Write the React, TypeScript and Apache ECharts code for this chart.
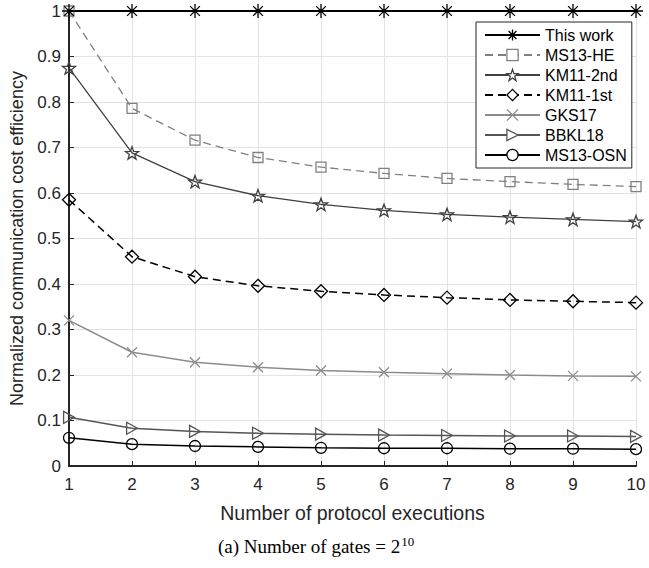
import React, { useEffect, useRef } from "react";
import * as echarts from "echarts";

const executions = [1, 2, 3, 4, 5, 6, 7, 8, 9, 10];
const yTicks = [0, 0.1, 0.2, 0.3, 0.4, 0.5, 0.6, 0.7, 0.8, 0.9, 1];

const thisWork = [1, 1, 1, 1, 1, 1, 1, 1, 1, 1];
const ms13he = [1, 0.786, 0.716, 0.678, 0.657, 0.643, 0.632, 0.625, 0.619, 0.614];
const km11nd = [0.875, 0.688, 0.625, 0.594, 0.575, 0.562, 0.553, 0.547, 0.542, 0.537];
const km11st = [0.585, 0.46, 0.416, 0.396, 0.384, 0.376, 0.37, 0.365, 0.362, 0.359];
const gks17 = [0.32, 0.25, 0.228, 0.217, 0.21, 0.206, 0.203, 0.2, 0.198, 0.197];
const bbkl18 = [0.107, 0.083, 0.076, 0.072, 0.07, 0.068, 0.067, 0.066, 0.066, 0.065];
const ms13osn = [0.062, 0.048, 0.044, 0.042, 0.04, 0.039, 0.039, 0.038, 0.038, 0.037];

const seriesNames = ["This work", "MS13-HE", "KM11-2nd", "KM11-1st", "GKS17", "BBKL18", "MS13-OSN"];

function starPath(): string {
  const pts: string[] = [];
  for (let k = 0; k < 10; k++) {
    const r = k % 2 === 0 ? 10 : 4;
    const a = (-90 + k * 36) * Math.PI / 180;
    pts.push(`${(r * Math.cos(a)).toFixed(2)},${(r * Math.sin(a)).toFixed(2)}`);
  }
  return "path://M" + pts.join(" L") + " Z";
}

const ASTERISK = "path://M0,-10 L0,10 M-10,0 L10,0 M-7,-7 L7,7 M-7,7 L7,-7";
const CROSS = "path://M-10,-10 L10,10 M-10,10 L10,-10";
const TRI_RIGHT = "path://M-8,-10 L10,0 L-8,10 Z";
const DIAMOND = "path://M0,-10 L10,0 L0,10 L-10,0 Z";
const SQUARE = "path://M-10,-10 L10,-10 L10,10 L-10,10 Z";
const CIRCLE = "path://M10,0 A10,10 0 1,1 -10,0 A10,10 0 1,1 10,0 Z";

const styles: Record<string, { color: string; symbol: string; size: number; dashed: boolean; width: number }> = {
  "This work": { color: "#000000", symbol: ASTERISK, size: 14, dashed: false, width: 1.8 },
  "MS13-HE": { color: "#808080", symbol: SQUARE, size: 10, dashed: true, width: 1.3 },
  "KM11-2nd": { color: "#404040", symbol: starPath(), size: 13, dashed: false, width: 1.3 },
  "KM11-1st": { color: "#000000", symbol: DIAMOND, size: 13, dashed: true, width: 1.5 },
  "GKS17": { color: "#8c8c8c", symbol: CROSS, size: 10, dashed: false, width: 1.5 },
  "BBKL18": { color: "#555555", symbol: TRI_RIGHT, size: 12, dashed: false, width: 1.5 },
  "MS13-OSN": { color: "#000000", symbol: CIRCLE, size: 11, dashed: false, width: 1.5 },
};

export default function App() {
  const ref = useRef<HTMLDivElement>(null);
  useEffect(() => {
    if (!ref.current) return;
    const chart = echarts.init(ref.current, undefined, { renderer: "svg" });
    const mk = (name: string, data: number[]) => {
      const s = styles[name];
      return {
        name,
        type: "line",
        data: executions.map((x, i) => [x, data[i]]),
        symbol: s.symbol,
        symbolSize: s.size,
        symbolKeepAspect: true,
        showAllSymbol: true,
        lineStyle: { color: s.color, width: s.width, type: s.dashed ? [8, 5] : "solid" },
        itemStyle: { color: "rgba(0,0,0,0)", borderColor: s.color, borderWidth: 1.3 },
        emphasis: { disabled: true },
      };
    };
    const font = "'Liberation Sans', Arial, Helvetica, sans-serif";
    const serif = "'Liberation Serif', 'Times New Roman', serif";
    chart.setOption({
      animation: false,
      backgroundColor: "#ffffff",
      grid: { left: 65, right: 13, top: 11, bottom: 102, containLabel: false },
      legend: {
        orient: "vertical",
        left: 476,
        top: 22,
        padding: [5, 5, 5, 8],
        itemWidth: 55,
        itemHeight: 14,
        itemGap: 4,
        backgroundColor: "#ffffff",
        borderColor: "#262626",
        borderWidth: 1,
        itemStyle: { color: "#ffffff", borderWidth: 1.3 },
        textStyle: { fontFamily: font, fontSize: 16, color: "#000" },
        data: seriesNames.map((n) => ({
          name: n,
          itemStyle: { color: "#ffffff", borderColor: styles[n].color, borderWidth: 1.3 },
        })),
      },
      xAxis: {
        type: "value",
        min: 1,
        max: 10,
        interval: 1,
        name: "Number of protocol executions",
        nameLocation: "middle",
        nameGap: 37,
        nameTextStyle: { fontFamily: font, fontSize: 19.5, color: "#262626" },
        axisLine: { lineStyle: { color: "#262626", width: 2 } },
        axisTick: { inside: true, length: 5, lineStyle: { color: "#262626" } },
        axisLabel: { fontFamily: font, fontSize: 17, color: "#262626", margin: 10 },
        splitLine: { show: true, lineStyle: { color: "#e3e3e3", width: 1 } },
      },
      yAxis: {
        type: "value",
        min: 0,
        max: 1,
        interval: 0.1,
        name: "Normalized communication cost efficiency",
        nameLocation: "middle",
        nameGap: 43,
        nameTextStyle: { fontFamily: font, fontSize: 18, color: "#262626" },
        axisLine: { show: true, lineStyle: { color: "#262626", width: 2 } },
        axisTick: { show: true, inside: true, length: 5, lineStyle: { color: "#262626" } },
        axisLabel: {
          fontFamily: font,
          fontSize: 17,
          color: "#262626",
          margin: 8,
          formatter: (v: number) => {
            const t = yTicks.find((y) => Math.abs(y - v) < 1e-6);
            return t === undefined ? "" : String(t);
          },
        },
        splitLine: { show: true, lineStyle: { color: "#e3e3e3", width: 1 } },
      },
      title: {
        text: "{a|(a) Number of gates = 2}{s|10}",
        left: 213,
        top: 530,
        textStyle: {
          fontWeight: "normal",
          rich: {
            a: { fontFamily: serif, fontSize: 19, fontWeight: "normal", color: "#000" },
            s: { fontFamily: serif, fontSize: 13, fontWeight: "normal", color: "#000", verticalAlign: "top", padding: [0, 0, 10, 1] },
          },
        },
      },
      series: [
        mk("MS13-OSN", ms13osn),
        mk("BBKL18", bbkl18),
        mk("GKS17", gks17),
        mk("KM11-1st", km11st),
        mk("KM11-2nd", km11nd),
        mk("MS13-HE", ms13he),
        mk("This work", thisWork),
      ],
    });
    return () => chart.dispose();
  }, []);
  return <div ref={ref} style={{ width: 649, height: 568, position: "absolute", left: 0, top: 0 }} />;
}
